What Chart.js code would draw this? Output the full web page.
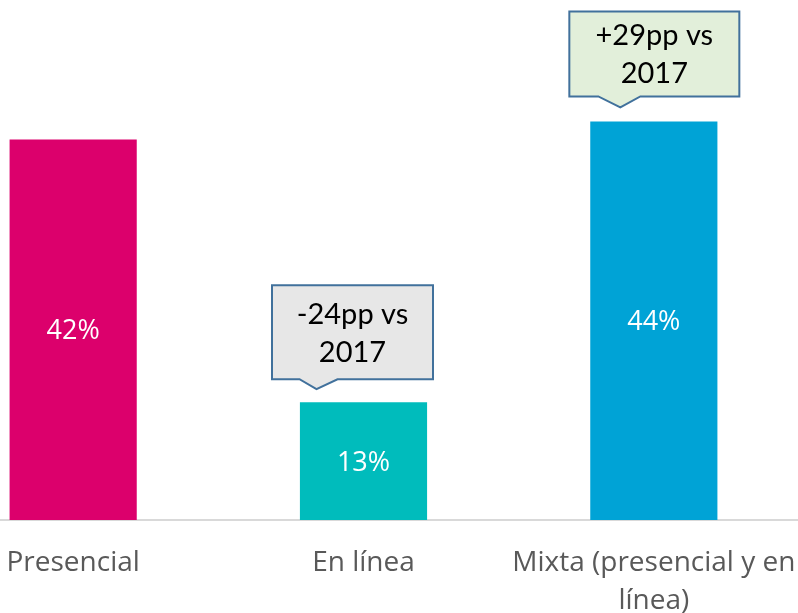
<!DOCTYPE html>
<html>
<head>
<meta charset="utf-8">
<script src="https://cdn.jsdelivr.net/npm/chart.js@4"></script>
<style>
  html, body { margin: 0; padding: 0; background: #fff; overflow: hidden; }
  #wrap { position: absolute; left: -72px; top: 0; width: 871px; height: 613px; }
</style>
</head>
<body>
<div id="wrap"><canvas id="chart" width="871" height="613"></canvas></div>
<script>
const categories = ["Presencial", "En línea", ["Mixta (presencial y en", "línea)"]];
const values = [42, 13, 44];
const barColors = ["#dc006c", "#00bcbc", "#00a3d6"];
const calloutTexts = [null, ["-24pp vs", "2017"], ["+29pp vs", "2017"]];

// callout look, relative to the bar it points at
const calloutStyles = [
  null,
  { fill: "#e7e7e7", left: -91.5, w: 161, gap: 23, h: 94, pL: -64, pR: -26, tip: -47, tipGap: 13, line1: 39, line2: 77 },
  { fill: "#e2efda", left: -84.5, w: 170, gap: 25, h: 85, pL: -55.5, pR: -13.5, tip: -33.5, tipGap: 14, line1: 34, line2: 72 }
];

const labelPlugin = {
  id: "barLabels",
  afterDatasetsDraw(chart) {
    const ctx = chart.ctx;
    const bars = chart.getDatasetMeta(0).data;
    ctx.save();
    ctx.font = "27px 'Open Sans'";
    ctx.fillStyle = "#ffffff";
    ctx.textAlign = "center";
    ctx.textBaseline = "middle";
    bars.forEach((bar, i) => {
      ctx.fillText(values[i] + "%", bar.x, (bar.y + bar.base) / 2 + 2);
    });

    bars.forEach((bar, i) => {
      const s = calloutStyles[i];
      if (!s || !calloutTexts[i]) return;
      const left = bar.x + s.left;
      const right = left + s.w;
      const bottom = bar.y - s.gap;
      const top = bottom - s.h;
      ctx.beginPath();
      ctx.moveTo(left, top);
      ctx.lineTo(right, top);
      ctx.lineTo(right, bottom);
      ctx.lineTo(bar.x + s.pR, bottom);
      ctx.lineTo(bar.x + s.tip, bar.y - s.tipGap);
      ctx.lineTo(bar.x + s.pL, bottom);
      ctx.lineTo(left, bottom);
      ctx.closePath();
      ctx.fillStyle = s.fill;
      ctx.fill();
      ctx.lineWidth = 2;
      ctx.strokeStyle = "#41719c";
      ctx.stroke();

      ctx.fillStyle = "#000000";
      ctx.font = "29px Lato";
      ctx.textBaseline = "alphabetic";
      const cx = (left + right) / 2;
      ctx.fillText(calloutTexts[i][0], cx, top + s.line1);
      ctx.fillText(calloutTexts[i][1], cx, top + s.line2);
    });
    ctx.restore();
  }
};

new Chart(document.getElementById("chart"), {
  type: "bar",
  data: {
    labels: categories,
    datasets: [{
      data: values,
      backgroundColor: barColors,
      borderWidth: 0,
      categoryPercentage: 1,
      barPercentage: 0.438
    }]
  },
  options: {
    responsive: false,
    animation: false,
    layout: { padding: 0 },
    plugins: {
      legend: { display: false },
      tooltip: { enabled: false }
    },
    scales: {
      x: {
        grid: { display: false, drawTicks: false },
        border: { color: "#d9d9d9", width: 2 },
        ticks: {
          color: "#595959",
          font: { family: "'Open Sans'", size: 28, lineHeight: 1.36 },
          padding: 24,
          maxRotation: 0,
          autoSkip: false
        },
        afterFit(scale) {
          scale.height = 93;
          scale.paddingLeft = 0;
          scale.paddingRight = 0;
        }
      },
      y: {
        display: false,
        min: 0,
        max: 57.4
      }
    }
  },
  plugins: [labelPlugin]
});
</script>
</body>
</html>
